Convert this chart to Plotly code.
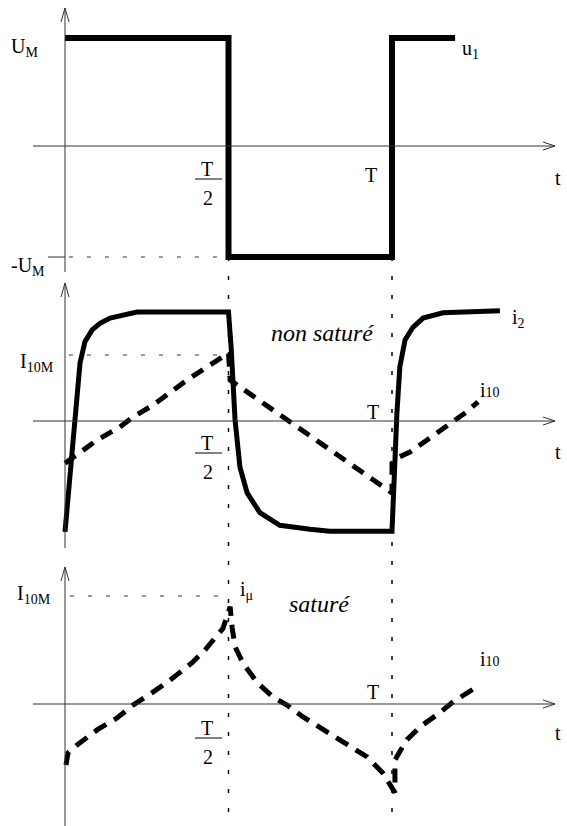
import plotly.graph_objects as go

# time in units of the period T
T_U1 = [0, 0.5, 0.5, 1.0, 1.0, 1.193]
U1 = [1, 1, -1, -1, 1, 1]  # in units of U_M

# secondary current i2, core not saturated (units of I_10M)
T_I2 = [0, 0.046, 0.061, 0.083, 0.107, 0.138, 0.220, 0.5, 0.508, 0.520, 0.535, 0.557,
        0.596, 0.657, 0.749, 0.810, 1.0, 1.009, 1.015, 1.024, 1.040, 1.064, 1.095,
        1.156, 1.239, 1.330]
I2 = [-1.68, 0.88, 1.20, 1.38, 1.48, 1.56, 1.65, 1.65, 1.12, 0.02, -0.70, -1.09,
      -1.39, -1.58, -1.64, -1.67, -1.67, -0.55, 0.12, 0.82, 1.23, 1.42, 1.56,
      1.64, 1.65, 1.67]

# magnetising current i10, not saturated
T_I10_NS = [0, 0.046, 0.098, 0.168, 0.208, 0.269, 0.373, 0.5, 0.505, 0.942, 0.979,
            1.0, 1.0, 1.015, 1.055, 1.107, 1.177, 1.229, 1.263]
I10_NS = [-0.64, -0.47, -0.29, -0.09, 0.06, 0.24, 0.62, 1.03, 0.62, -0.89, -1.02,
          -1.09, -0.64, -0.56, -0.47, -0.29, -0.03, 0.14, 0.29]

# magnetising current i10, saturated
T_I10_S = [0.003, 0.009, 0.037, 0.098, 0.159, 0.208, 0.269, 0.321, 0.388, 0.428,
           0.483, 0.505, 0.511, 0.520, 0.544, 0.587, 0.636, 0.679, 0.728, 0.789,
           0.850, 0.924, 0.972, 1.009, 1.009, 1.024, 1.046, 1.086, 1.138, 1.187,
           1.229, 1.260]
I10_S = [-0.565, -0.454, -0.38, -0.24, -0.13, -0.01, 0.11, 0.22, 0.38, 0.50,
         0.70, 0.90, 0.71, 0.53, 0.38, 0.20, 0.065, -0.01, -0.12, -0.24,
         -0.35, -0.49, -0.64, -0.82, -0.52, -0.44, -0.33, -0.21, -0.10, 0.02,
         0.10, 0.16]

W, H = 567, 826
X0, PX_T = 65, 327          # pixel of t=0, pixels per period
# (pixel row of zero, pixels per unit) for each panel
PANELS = {"y": (147.5, 109.5), "y2": (421, 66), "y3": (704, 108)}

SERIF = "'Liberation Serif', 'DejaVu Serif', serif"
AX = "#333"


def px(x):
    return x / W


def py(y):
    return 1 - y / H


def line(x0, y0, x1, y1, width=1, color=AX, dash="solid"):
    return dict(type="line", xref="paper", yref="paper", x0=px(x0), y0=py(y0),
                x1=px(x1), y1=py(y1), line=dict(color=color, width=width, dash=dash))


def vee(points):
    path = "M " + " L ".join(f"{px(a)},{py(b)}" for a, b in points)
    return dict(type="path", xref="paper", yref="paper", path=path,
                line=dict(color=AX, width=1))


def label(x, y, text, size=20, italic=False, xanchor="center"):
    return dict(x=px(x), y=py(y), xref="paper", yref="paper", text=text, showarrow=False,
                xanchor=xanchor, yanchor="middle",
                font=dict(family=SERIF, size=size, color="black",
                          style="italic" if italic else "normal"))


fig = go.Figure()
fig.add_trace(go.Scatter(x=T_U1, y=U1, mode="lines", yaxis="y",
                         line=dict(color="black", width=6)))
fig.add_trace(go.Scatter(x=T_I2, y=I2, mode="lines", yaxis="y2",
                         line=dict(color="black", width=5)))
fig.add_trace(go.Scatter(x=T_I10_NS, y=I10_NS, mode="lines", yaxis="y2",
                         line=dict(color="black", width=5, dash="13px,9px")))
fig.add_trace(go.Scatter(x=T_I10_S, y=I10_S, mode="lines", yaxis="y3",
                         line=dict(color="black", width=5, dash="14px,9px")))

shapes = []
# axes (horizontal with arrow, vertical with arrow)
for yrow, vtop, vbot in [(146, 8, 272), (421, 283, 548), (704, 567, 826)]:
    shapes.append(line(33, yrow, 555, yrow))
    shapes.append(vee([(543, yrow - 4), (555, yrow), (543, yrow + 4)]))
    shapes.append(line(65, vtop, 65, vbot))
    shapes.append(vee([(61, vtop + 14), (65, vtop), (69, vtop + 14)]))

# -U_M tick and guides
shapes.append(line(48, 257, 65, 257))
guide = dict(color=AX, width=1, dash="4px,14px")
shapes.append(dict(type="line", xref="x", yref="y", x0=0.012, x1=0.5, y0=-1, y1=-1, line=guide))
shapes.append(dict(type="line", xref="x", yref="y2", x0=0.012, x1=0.5, y0=1, y1=1, line=guide))
shapes.append(dict(type="line", xref="x", yref="y3", x0=0.015, x1=0.5, y0=1, y1=1, line=guide))
for tx, yend in [(0.5, 826), (1.0, 820)]:
    shapes.append(dict(type="line", xref="x", yref="paper", x0=tx, x1=tx,
                       y0=py(257), y1=py(yend),
                       line=dict(color="black", width=1.5, dash="4px,15px")))

# fraction bars for T/2
annotations = []
for ytop in [169, 443, 728]:
    shapes.append(line(195, ytop + 10, 222, ytop + 10, color="black"))
    annotations.append(label(207, ytop, "T"))
    annotations.append(label(208, ytop + 29, "2"))

sub = "<span style='font-size:14px'>{}</span>"
annotations += [
    label(24, 47, "U" + "<sub>M</sub>"),
    label(28, 266, "-U<sub>M</sub>"),
    label(371, 175, "T"),
    label(558, 178, "t"),
    label(460, 50, "u<sub>1</sub>", xanchor="left"),
    # middle panel
    label(37, 362, "I<sub>10M</sub>"),
    label(322, 333, "non saturé", size=24, italic=True),
    label(510, 318, "i<sub>2</sub>", xanchor="left"),
    label(478, 390, "i" + sub.format("10"), xanchor="left"),
    label(373, 412, "T"),
    label(558, 452, "t"),
    # bottom panel
    label(34, 594, "I<sub>10M</sub>"),
    label(238, 590, "i<sub>\u03bc</sub>", xanchor="left"),
    label(319, 604, "saturé", size=24, italic=True),
    label(478, 659, "i" + sub.format("10"), xanchor="left"),
    label(373, 692, "T"),
    label(558, 733, "t"),
]

xr = [(0 - X0) / PX_T, (W - X0) / PX_T]


def yr(key):
    y0, s = PANELS[key]
    return [(y0 - H) / s, y0 / s]


fig.update_layout(
    width=W, height=H,
    margin=dict(l=0, r=0, t=0, b=0),
    paper_bgcolor="white", plot_bgcolor="white",
    showlegend=False,
    font=dict(family=SERIF, color="black"),
    xaxis=dict(range=xr, visible=False, fixedrange=True),
    yaxis=dict(range=yr("y"), visible=False, fixedrange=True),
    yaxis2=dict(range=yr("y2"), visible=False, overlaying="y", fixedrange=True),
    yaxis3=dict(range=yr("y3"), visible=False, overlaying="y", fixedrange=True),
    shapes=shapes,
    annotations=annotations,
)

# drop the default page margin so the figure sits at the window origin
fig.write_html("out.html", config={"displayModeBar": False},
               post_script="document.body.style.margin='0';")
